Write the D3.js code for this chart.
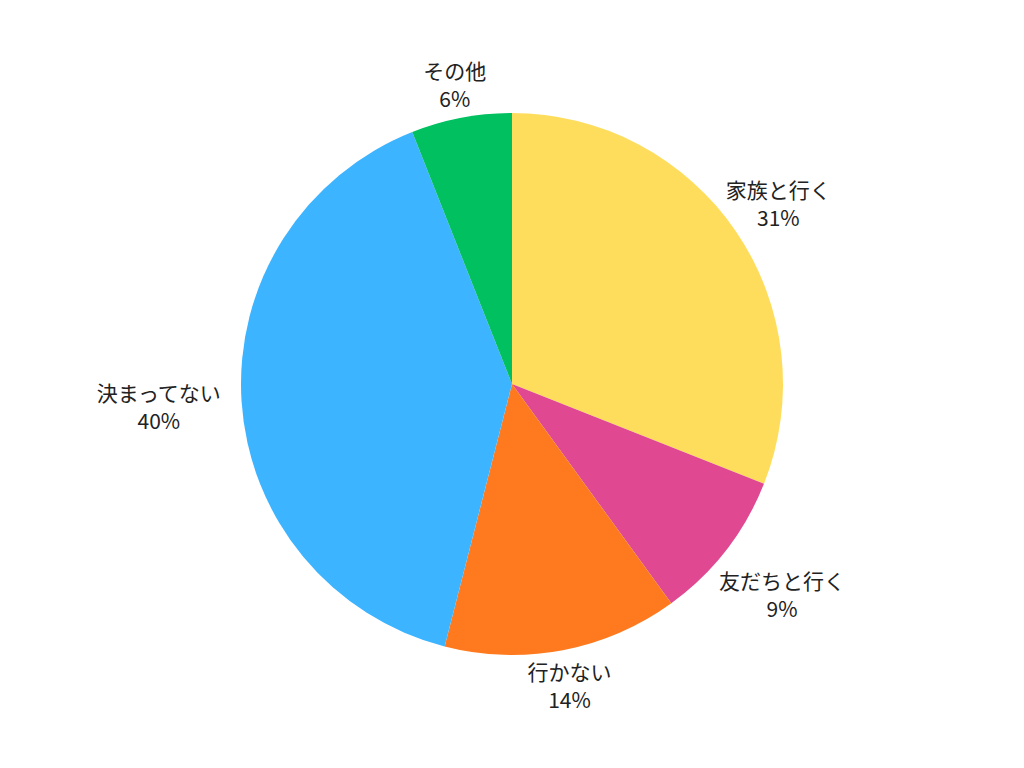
<!DOCTYPE html>
<html>
<head>
<meta charset="utf-8">
<script src="https://cdn.jsdelivr.net/npm/d3@7"></script>
<style>
  body { margin: 0; background: #fff; }
  text { font-family: "Noto Sans CJK JP", "Noto Sans", sans-serif; fill: #222; }
</style>
</head>
<body>
<div id="chart"></div>
<script>
// Data
const categories = ["家族と行く", "友だちと行く", "行かない", "決まってない", "その他"];
const values = [31, 9, 14, 40, 6];
const colors = ["#FFDD5C", "#E04891", "#FF7A1F", "#3CB4FF", "#00C060"];

const width = 1024;
const height = 768;
const cx = 512, cy = 384;
const radius = 271;

const svg = d3.select("#chart")
    .append("svg")
    .attr("width", width)
    .attr("height", height);

const g = svg.append("g")
    .attr("transform", `translate(${cx},${cy})`);

const pie = d3.pie().sort(null).value(d => d.value);
const arc = d3.arc().innerRadius(0).outerRadius(radius);

const data = categories.map((c, i) => ({ name: c, value: values[i], color: colors[i] }));
const arcs = pie(data);

g.selectAll("path")
    .data(arcs)
    .join("path")
    .attr("d", arc)
    .attr("fill", d => d.data.color);

// Labels outside the rim: further out on the sides, pulled in on the upper sides
const fontSize = 21, lineH = 28;
const total = d3.sum(values);

function labelPos(d) {
    const a = (d.startAngle + d.endAngle) / 2;
    const s = Math.sin(a), c = Math.cos(a);
    const dist = radius + 25 + 58 * Math.abs(s) - 57 * Math.max(0, c) * s * s;
    return [s * dist, -c * dist];
}

const labels = g.selectAll("g.label")
    .data(arcs)
    .join("g")
    .attr("class", "label")
    .attr("transform", d => {
        const [x, y] = labelPos(d);
        return `translate(${x},${y})`;
    });

// one text per line
labels.append("text")
    .attr("text-anchor", "middle")
    .attr("font-size", fontSize)
    .attr("y", -5)
    .text(d => d.data.name);

labels.append("text")
    .attr("text-anchor", "middle")
    .attr("font-size", fontSize)
    .attr("y", -5 + lineH)
    .text(d => Math.round(d.data.value / total * 100) + "%");
</script>
</body>
</html>
